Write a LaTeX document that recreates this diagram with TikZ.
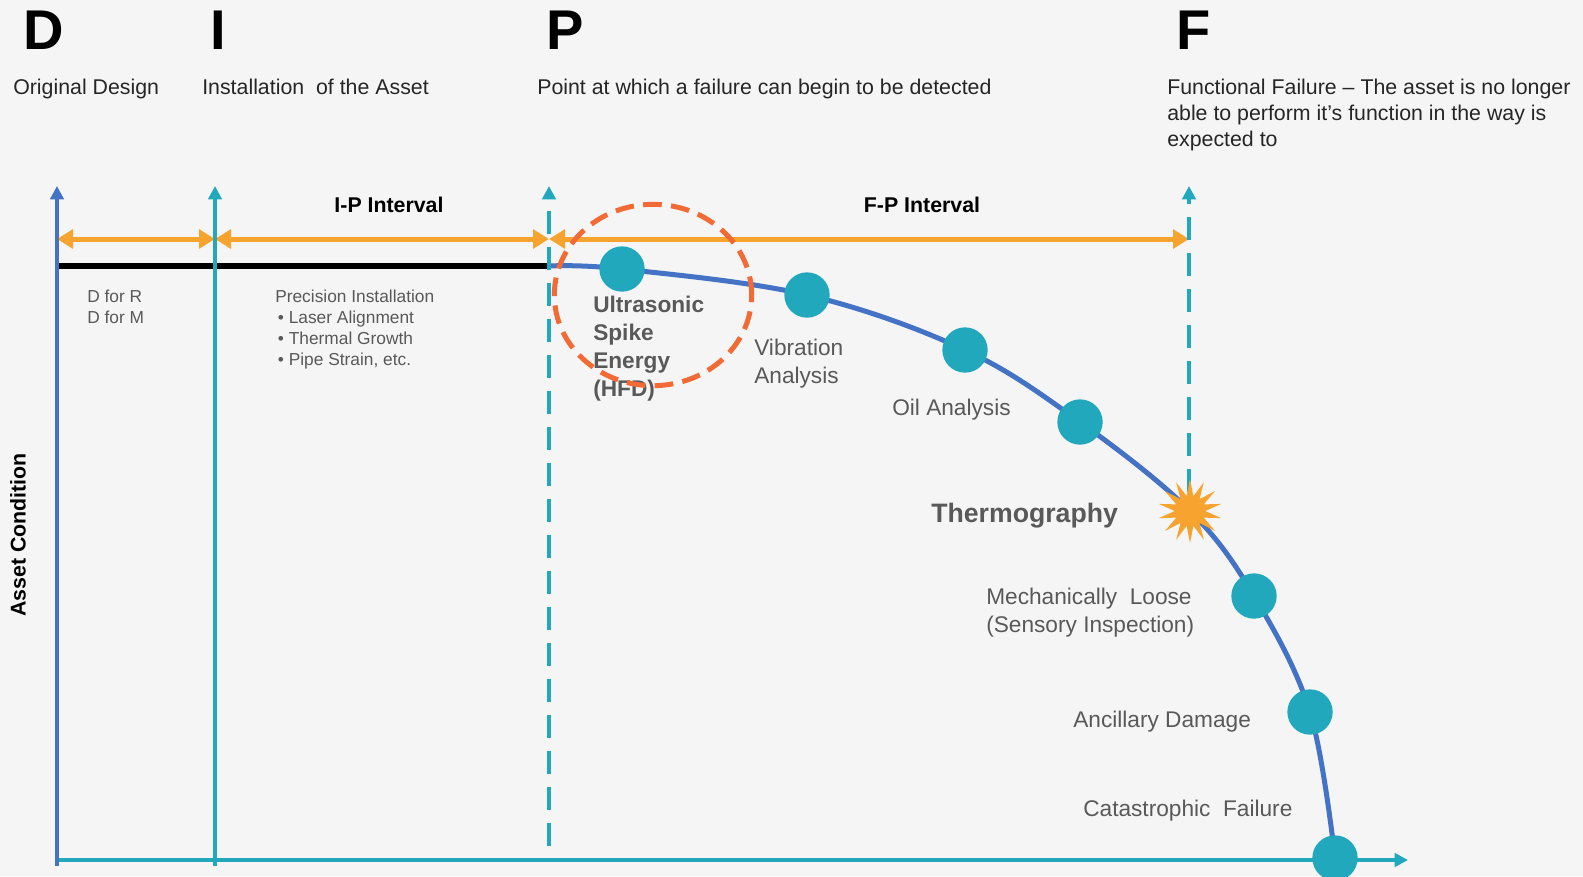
\documentclass[tikz,border=0pt]{standalone}
\usepackage{fontspec}
\setmainfont{Liberation Sans}
\usetikzlibrary{arrows.meta,shapes.geometric}

\definecolor{bgGray}{HTML}{F5F5F5}
\definecolor{axisBlue}{HTML}{4472C4}
\definecolor{tealLine}{HTML}{22A8BC}
\definecolor{arrowOrange}{HTML}{F7A330}
\definecolor{ringOrange}{HTML}{F26A36}
\definecolor{textGray}{HTML}{595959}
\definecolor{headGray}{HTML}{262626}

\begin{document}
\begin{tikzpicture}[x=0.75pt,y=-0.75pt,
  letter/.style={font=\fontsize{42}{42}\selectfont\bfseries, inner sep=0pt},
  headtext/.style={font=\fontsize{16}{19.5}\selectfont, text=headGray, inner sep=0pt, align=left},
  intlabel/.style={font=\fontsize{16}{19}\selectfont\bfseries, inner sep=0pt},
  smalltext/.style={font=\fontsize{13}{15.75}\selectfont, text=textGray, inner sep=0pt, align=left},
  graylbl/.style={font=\fontsize{17}{21}\selectfont, text=textGray, inner sep=0pt, align=left},
  boldlbl/.style={font=\fontsize{17}{21}\selectfont\bfseries, text=textGray, inner sep=0pt, align=left},
  dot/.style={circle, fill=tealLine, minimum size=34pt, inner sep=0pt},
  vline/.style={tealLine, line width=3pt, -{Triangle[length=10pt,width=10pt]}},
  dashline/.style={vline, dash pattern=on 17pt off 10pt},
  interval/.style={arrowOrange, line width=3.75pt, {Triangle[length=12pt,width=14pt]}-{Triangle[length=12pt,width=14pt]}}]

\useasboundingbox (0,0) rectangle (1583,876);
\fill[bgGray] (0,0) rectangle (1583,876);

% big letters and what they stand for
\node[letter] (d) at (44,30) {D};
\node[letter] (i) at (218,30) {I};
\node[letter] (p) at (565,30) {P};
\node[letter] (f) at (1194,30) {F};
\node[headtext, anchor=base west] (dtext) at (13,94) {Original Design};
\node[headtext, anchor=base west] (itext) at (202,94) {Installation\ \ of the Asset};
\node[headtext, anchor=base west] (ptext) at (537,94) {Point at which a failure can begin to be detected};
\node[headtext, anchor=north west] (ftext) at (1167,78.5) {Functional Failure -- The asset is no longer\\able to perform it's function in the way is\\expected to};

% points on the axes
\coordinate (o) at (57,866);
\coordinate (ytop) at (57,186);
\coordinate (xstart) at (57,860);
\coordinate (xend) at (1408,860);
\coordinate (ibot) at (215,866);
\coordinate (itop) at (215,186);
\coordinate (pbot) at (549,846);
\coordinate (ptop) at (549,186);
\coordinate (fbot) at (1189,492);
\coordinate (ftop) at (1189,186);
\coordinate (dl) at (57,239);
\coordinate (il) at (215,239);
\coordinate (pl) at (549,239);
\coordinate (fl) at (1189,239);
\coordinate (k0) at (57,266);
\coordinate (k1) at (549,266);

% points of the condition curve
\coordinate (us) at (622,269);
\coordinate (va) at (807,295);
\coordinate (oa) at (965,350);
\coordinate (tg) at (1080,422);
\coordinate (fx) at (1190,511);
\coordinate (ml) at (1254,596);
\coordinate (ad) at (1310,712);
\coordinate (cf) at (1335,858);

\draw[line width=4pt] (k0) -- (k1);
\draw[axisBlue, line width=3.75pt] plot[smooth, tension=0.6] coordinates {(k1) (us) (va) (oa) (tg) (fx) (ml) (ad) (cf)};

\draw[interval] (dl) -- (il);
\draw[interval] (il) -- (pl);
\draw[interval] (pl) -- (fl);

\draw[vline] (xstart) -- (xend);
\draw[vline, axisBlue] (o) -- (ytop);
\draw[vline] (ibot) -- (itop);
\draw[dashline] (pbot) -- (ptop);
\draw[dashline] (fbot) -- (ftop);

\node[intlabel] (ip) at (389,205) {I-P Interval};
\node[intlabel] (fp) at (922,205) {F-P Interval};

% the technologies along the curve
\foreach \pt in {us,va,oa,tg,ml,ad,cf}
  \node[dot] at (\pt) {};
\node[star, star points=14, star point ratio=2.1, minimum size=48pt, inner sep=0pt, fill=arrowOrange] (star) at (fx) {};

\node[smalltext, anchor=north west] (dfor) at (87,290) {D for R\\D for M};
\node[smalltext, anchor=north west] (prec) at (275,290) {Precision Installation\\\hspace{2pt}\textbullet\ Laser Alignment\\\hspace{2pt}\textbullet\ Thermal Growth\\\hspace{2pt}\textbullet\ Pipe Strain, etc.};
\node[boldlbl, anchor=north west] (ustext) at (593,296) {Ultrasonic\\Spike\\Energy\\(HFD)};
\node[graylbl, anchor=north west] (vatext) at (754,338.5) {Vibration\\Analysis};
\node[graylbl, anchor=base west] (oatext) at (892,415) {Oil Analysis};
\node[boldlbl, font=\fontsize{20}{24}\selectfont\bfseries, anchor=base west] (tgtext) at (931,522) {Thermography};
\node[graylbl, anchor=north west] (mltext) at (986,587.5) {Mechanically\ \ Loose\\(Sensory Inspection)};
\node[graylbl, anchor=base west] (adtext) at (1073,727) {Ancillary Damage};
\node[graylbl, anchor=base west] (cftext) at (1083,816) {Catastrophic\ \ Failure};
\node[intlabel, rotate=90] (ac) at (18,535) {Asset Condition};

% ring round the ultrasonic point
\draw[ringOrange, line width=3.75pt, dash pattern=on 14pt off 7pt] (653,295) ellipse [x radius=74pt, y radius=68pt];

\end{tikzpicture}
\end{document}
